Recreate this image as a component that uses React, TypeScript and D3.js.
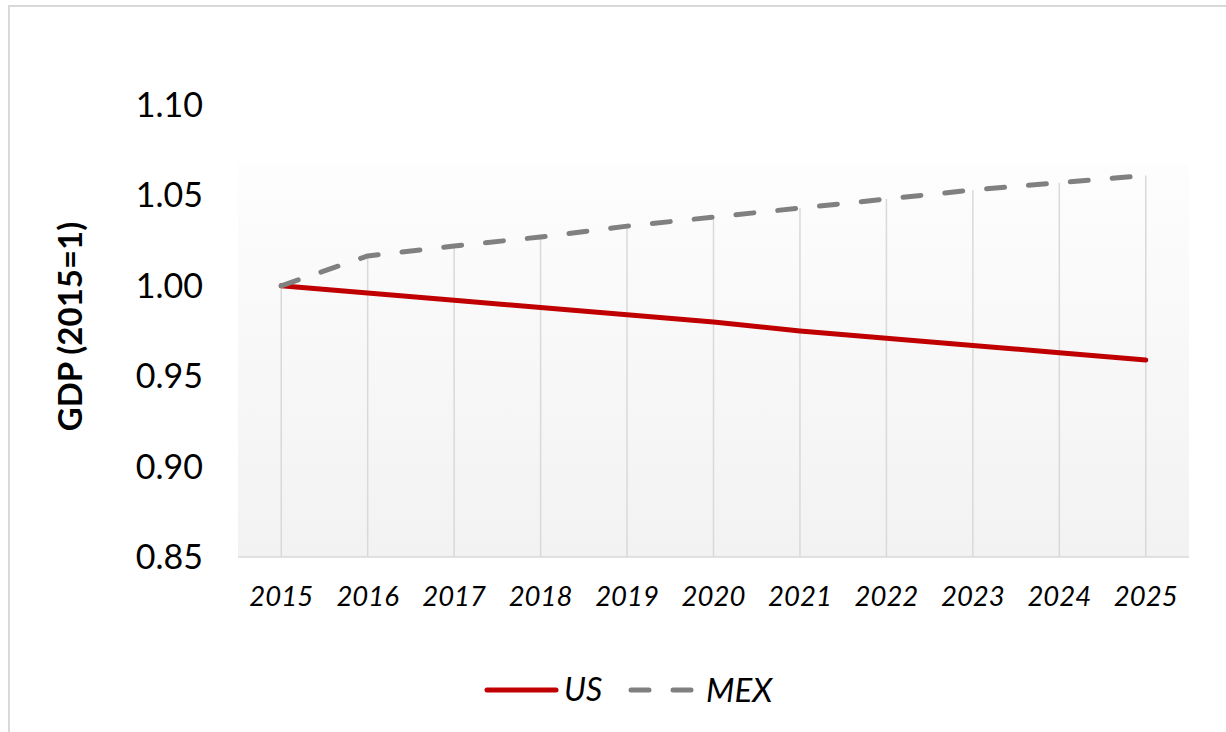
import React from "react";
import * as d3 from "d3";

const years = ["2015", "2016", "2017", "2018", "2019", "2020", "2021", "2022", "2023", "2024", "2025"];
const usValues = [1.0, 0.996, 0.992, 0.988, 0.984, 0.98, 0.975, 0.971, 0.967, 0.963, 0.959];
const mexValues = [1.0, 1.0165, 1.022, 1.027, 1.033, 1.038, 1.043, 1.048, 1.053, 1.057, 1.061];
const yTicks = [0.85, 0.9, 0.95, 1.0, 1.05, 1.1];

const W = 1226;
const H = 732;
const plot = { left: 238, right: 1189, top: 105, bottom: 557 };
const fillTop = 165;
const FONT = "Lato, 'Open Sans', sans-serif";

export default function App() {
  const x = d3.scaleBand<string>().domain(years).range([plot.left, plot.right]);
  const y = d3.scaleLinear().domain([0.85, 1.1]).range([plot.bottom, plot.top]);
  const cx = (d: string) => (x(d) as number) + x.bandwidth() / 2;
  const line = d3
    .line<number>()
    .x((_, i) => cx(years[i]))
    .y((v) => y(v));

  return (
    <svg
      width={W}
      height={H}
      style={{ position: "absolute", left: 0, top: 0, display: "block" }}
    >
      <defs>
        <linearGradient id="bg" x1="0" y1="0" x2="0" y2="1">
          <stop offset="0" stopColor="#fdfdfd" />
          <stop offset="1" stopColor="#f2f2f2" />
        </linearGradient>
      </defs>
      <rect x={0} y={0} width={W} height={H} fill="#fff" />
      <rect x={9} y={6} width={W + 20} height={H + 20} fill="none" stroke="#d9d9d9" strokeWidth={2} />
      <rect
        x={plot.left}
        y={fillTop}
        width={plot.right - plot.left}
        height={plot.bottom - fillTop}
        fill="url(#bg)"
      />
      {years.map((yr, i) => (
        <line
          key={yr}
          x1={cx(yr)}
          x2={cx(yr)}
          y1={plot.bottom}
          y2={y(mexValues[i])}
          stroke="#d9d9d9"
          strokeWidth={1.5}
        />
      ))}
      <line x1={plot.left} x2={plot.right} y1={plot.bottom} y2={plot.bottom} stroke="#d9d9d9" strokeWidth={1.5} />
      {yTicks.map((t) => (
        <text
          key={t}
          x={203}
          y={y(t)}
          dy="0.35em"
          textAnchor="end"
          fontFamily={FONT}
          fontSize={34}
          fill="#000"
        >
          {d3.format(".2f")(t)}
        </text>
      ))}
      {years.map((yr) => (
        <text
          key={yr}
          x={cx(yr)}
          y={596}
          dy="0.35em"
          textAnchor="middle"
          fontFamily={FONT}
          fontStyle="italic"
          fontSize={27.5}
          fill="#000"
        >
          {yr}
        </text>
      ))}
      <text
        transform={`translate(70,${(218 + 435) / 2}) rotate(-90)`}
        dy="0.35em"
        textAnchor="middle"
        fontFamily={FONT}
        fontWeight="bold"
        fontSize={33}
        fill="#000"
      >
        GDP (2015=1)
      </text>
      <path d={line(usValues) || ""} fill="none" stroke="#c00000" strokeWidth={5} strokeLinecap="round" strokeLinejoin="round" />
      <path
        d={line(mexValues) || ""}
        fill="none"
        stroke="#808080"
        strokeWidth={5}
        strokeDasharray="18 24"
        strokeLinecap="round"
        strokeLinejoin="round"
      />
      <line x1={487} x2={556} y1={690} y2={690} stroke="#c00000" strokeWidth={5} strokeLinecap="round" />
      <text x={564} y={690} dy="0.35em" fontFamily={FONT} fontStyle="italic" fontSize={32} fill="#000">
        US
      </text>
      <line x1={631} x2={694} y1={690} y2={690} stroke="#808080" strokeWidth={5} strokeDasharray="18 24" strokeLinecap="round" />
      <text x={706} y={690} dy="0.35em" fontFamily={FONT} fontStyle="italic" fontSize={33} fill="#000">
        MEX
      </text>
    </svg>
  );
}
